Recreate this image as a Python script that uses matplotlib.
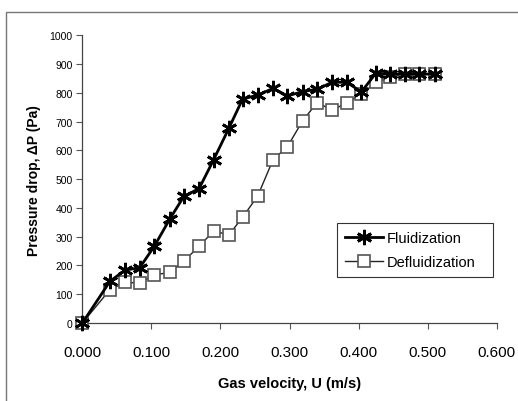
import numpy as np
import matplotlib.pyplot as plt
from matplotlib.patches import Rectangle

# gas velocity (m/s), shared by both runs
velocity = [0.000, 0.040, 0.062, 0.083, 0.104, 0.127, 0.147, 0.169, 0.190, 0.212,
            0.232, 0.254, 0.276, 0.297, 0.319, 0.340, 0.362, 0.383, 0.404, 0.425,
            0.446, 0.467, 0.488, 0.510]
fluidization = [0, 145, 184, 192, 266, 363, 440, 467, 567, 676,
                778, 792, 815, 789, 804, 812, 837, 836, 803, 868,
                865, 865, 865, 865]
defluidization = [0, 116, 141, 139, 167, 176, 216, 266, 320, 306,
                  367, 442, 567, 613, 703, 766, 739, 766, 795, 836,
                  853, 865, 865, 865]

x_ticks = np.arange(0, 0.61, 0.1)
y_ticks = np.arange(0, 1001, 100)

plt.rcParams["font.family"] = ["Liberation Sans", "DejaVu Sans"]

fig = plt.figure(figsize=(5.18, 4.02), dpi=100)
ax = fig.add_axes([0.159, 0.194, 0.8, 0.716])

# outer frame of the original figure, cut at right and bottom
fig.patches.append(Rectangle((6 / 518, -0.1), 1.5, 1 - 13 / 402 + 0.1,
                             transform=fig.transFigure, fill=False,
                             edgecolor="#777777", linewidth=1.0))

ax.plot(velocity, fluidization, color="black", linewidth=2.0,
        marker=(6, 2, 0), markersize=11, markeredgewidth=2.0,
        label="Fluidization", clip_on=False, zorder=4)
ax.plot(velocity, defluidization, color="#222222", linewidth=1.0,
        marker="s", markersize=9, markerfacecolor="white",
        markeredgecolor="#555555", markeredgewidth=1.2,
        label="Defluidization", clip_on=False, zorder=3)

ax.set_xlim(0, 0.6)
ax.set_ylim(0, 1000)
ax.set_xticks(x_ticks)
ax.set_xticklabels([f"{v:.3f}" for v in x_ticks], fontsize=11)
ax.set_yticks(y_ticks)
ax.set_yticklabels([f"{v:d}" for v in y_ticks], fontsize=7.5)
ax.tick_params(axis="both", direction="out", length=4, width=0.8, color="#555555")
ax.tick_params(axis="x", pad=12)
ax.tick_params(axis="y", pad=3)

for side in ["top", "right"]:
    ax.spines[side].set_visible(False)
for side in ["left", "bottom"]:
    ax.spines[side].set_color("#444444")
    ax.spines[side].set_linewidth(0.9)

ax.set_xlabel("Gas velocity, U (m/s)", fontsize=10.5, fontweight="bold", labelpad=12)
ax.set_ylabel("Pressure drop, ΔP (Pa)", fontsize=10, fontweight="bold", labelpad=6)

leg = ax.legend(loc="lower left", bbox_to_anchor=(0.614, 0.16, 0.377, 0.19),
                mode="expand", fontsize=10.5, frameon=True, fancybox=False,
                edgecolor="black", handlelength=2.6, borderpad=0.55,
                labelspacing=0.7, handletextpad=0.3, borderaxespad=0)
leg.get_frame().set_linewidth(0.8)

fig.savefig("out.png", dpi=100)
